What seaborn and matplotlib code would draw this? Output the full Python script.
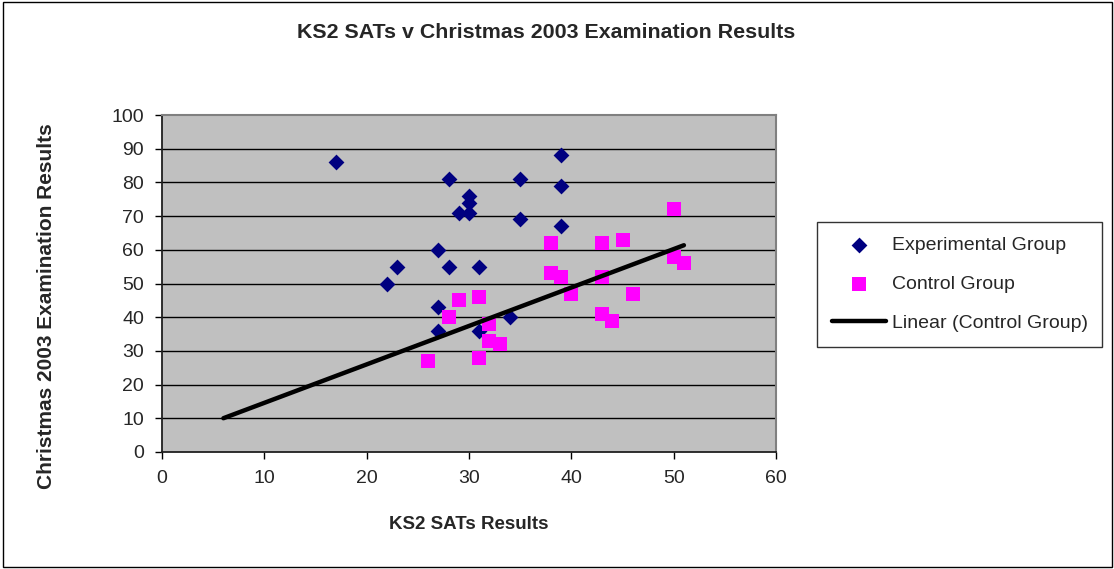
import numpy as np
import pandas as pd
import matplotlib
matplotlib.use("Agg")
import matplotlib.pyplot as plt
import seaborn as sns
from matplotlib.patches import Rectangle

sns.set_style("white")
plt.rcParams['font.family'] = ['Liberation Sans', 'DejaVu Sans']

# KS2 SATs (x) v Christmas 2003 exam (y)
exp_x = [17, 28, 35, 39, 39, 30, 30, 29, 30, 35, 39, 27, 23, 28, 31, 22, 27, 27, 31, 34]
exp_y = [86, 81, 81, 88, 79, 76, 74, 71, 71, 69, 67, 60, 55, 55, 55, 50, 43, 36, 36, 40]
ctl_x = [26, 28, 29, 31, 31, 32, 32, 33, 38, 38, 39, 40, 43, 43, 43, 44, 45, 46, 50, 50, 51]
ctl_y = [27, 40, 45, 46, 28, 38, 33, 32, 62, 53, 52, 47, 62, 52, 41, 39, 63, 47, 72, 58, 56]
trend_x = [6, 51]  # trendline extent (backward forecast)

df = pd.DataFrame({
    "x": exp_x + ctl_x,
    "y": exp_y + ctl_y,
    "group": ["Experimental Group"] * len(exp_x) + ["Control Group"] * len(ctl_x),
})
slope, icpt = np.polyfit(ctl_x, ctl_y, 1)
trend = pd.DataFrame({"x": trend_x, "y": [slope * v + icpt for v in trend_x]})

fig = plt.figure(figsize=(11.14, 5.69), dpi=100)
ax = fig.add_axes([162/1114, 1-452/569, 614/1114, 337/569])
ax.set_facecolor("#C0C0C0")

for y in range(10, 100, 10):
    ax.axhline(y, color="black", lw=1, zorder=1)

sns.scatterplot(ax=ax, data=df[df.group == "Experimental Group"], x="x", y="y",
                marker="D", color="#000080", s=65, linewidth=0, zorder=3,
                label="Experimental Group")
sns.scatterplot(ax=ax, data=df[df.group == "Control Group"], x="x", y="y",
                marker="s", color="#FF00FF", s=115, linewidth=0, zorder=3,
                label="Control Group")
sns.lineplot(ax=ax, data=trend, x="x", y="y", color="black", lw=3.2, zorder=4,
             label="Linear (Control Group)", solid_capstyle="round")

ax.set_xlim(0, 60)
ax.set_ylim(0, 100)
ax.set_xticks(range(0, 61, 10))
ax.set_yticks(range(0, 101, 10))
ax.tick_params(direction="out", length=5, width=1, color="black", labelsize=14, pad=8,
               bottom=True, left=True)
for side in ["left", "bottom"]:
    ax.spines[side].set_color("#202020")
    ax.spines[side].set_linewidth(1.3)
for side in ["top", "right"]:
    ax.spines[side].set_color("#808080")
    ax.spines[side].set_linewidth(1.5)

ax.set_xlabel("KS2 SATs Results", fontsize=13.5, fontweight="bold", labelpad=21)
ax.set_ylabel("Christmas 2003 Examination Results", fontsize=15, fontweight="bold")
ax.yaxis.set_label_coords((56-162)/614, (452-306)/337)
fig.text(546/1114, 1-33/569, "KS2 SATs v Christmas 2003 Examination Results",
         ha="center", va="center", fontsize=15.4, fontweight="bold")

handles, labels = ax.get_legend_handles_labels()
ax.get_legend().remove()
fig.legend(handles, labels, loc="upper left", bbox_to_anchor=(817/1114, 1-222/569),
           frameon=True, fancybox=False, edgecolor="black", fontsize=14,
           borderpad=0.75, labelspacing=1.1, handlelength=2.8, handletextpad=0.3,
           borderaxespad=0).get_frame().set_linewidth(1)

fig.patches.append(Rectangle((3/1114, 2/569), 1109/1114, 565/569, transform=fig.transFigure,
                             fill=False, edgecolor="black", lw=1))

fig.savefig("out.png", dpi=100)
